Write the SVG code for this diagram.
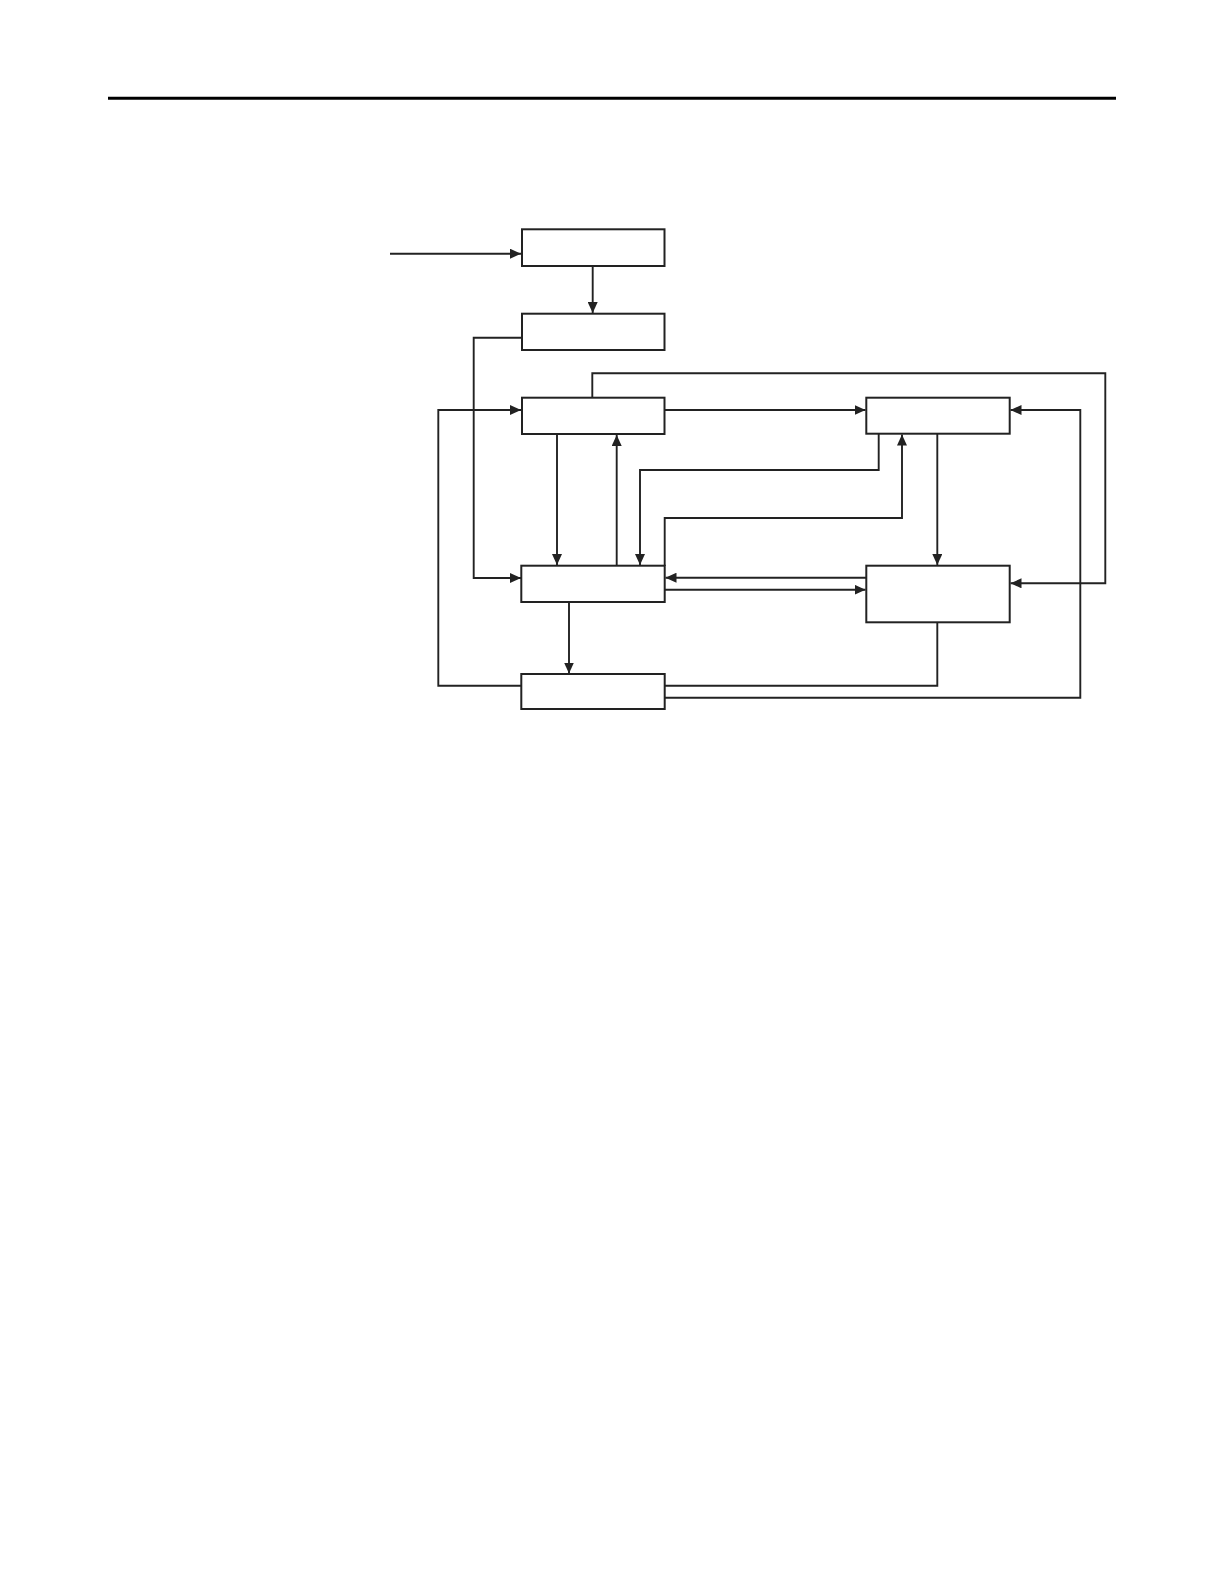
<svg xmlns="http://www.w3.org/2000/svg" width="1224" height="1584" viewBox="0 0 1224 1584">
<style>
.box{fill:#fff;stroke:#222;stroke-width:2}
.ln{fill:none;stroke:#222;stroke-width:1.9}
.arr{marker-end:url(#ah)}
</style>
<defs>
<marker id="ah" markerUnits="userSpaceOnUse" markerWidth="11" markerHeight="10" refX="11" refY="5" orient="auto">
<path d="M0,0 L11,5 L0,10 z" fill="#222"/>
</marker>
</defs>
<rect width="1224" height="1584" fill="#fff"/>
<line x1="108" y1="98.3" x2="1116" y2="98.3" stroke="#000" stroke-width="3"/>
<g id="connectors">
<path class="ln arr" d="M390,253.7 H521"/>
<path class="ln arr" d="M592.7,266 V313"/>
<path class="ln arr" d="M522,337.7 H473.7 V578 H521"/>
<path class="ln arr" d="M522,685.7 H438.3 V410 H521"/>
<path class="ln arr" d="M592.3,397.7 V373.3 H1105.3 V583.3 H1010.5"/>
<path class="ln arr" d="M664.5,410 H865.5"/>
<path class="ln arr" d="M557,434 V565"/>
<path class="ln arr" d="M616.7,566 V435"/>
<path class="ln arr" d="M878.7,434 V470 H640 V565"/>
<path class="ln arr" d="M664.7,566 V518 H902 V434.5"/>
<path class="ln arr" d="M937.3,434 V565"/>
<path class="ln arr" d="M866,577.7 H665.5"/>
<path class="ln arr" d="M664.7,589.7 H865.5"/>
<path class="ln arr" d="M569,602 V673.5"/>
<path class="ln" d="M664.7,685.7 H937.3 V622.3"/>
<path class="ln arr" d="M664.7,697.7 H1080.3 V410 H1010.5"/>
</g>
<g id="nodeA"><rect class="box" x="522" y="229.3" width="142.5" height="36.7"/></g>
<g id="nodeB"><rect class="box" x="522" y="313.7" width="142.5" height="36.3"/></g>
<g id="nodeC"><rect class="box" x="522" y="397.7" width="142.5" height="36.3"/></g>
<g id="nodeD"><rect class="box" x="521.3" y="565.7" width="143.4" height="36.3"/></g>
<g id="nodeF"><rect class="box" x="521.3" y="674" width="143.4" height="35"/></g>
<g id="nodeG"><rect class="box" x="866.3" y="397.7" width="143.4" height="36"/></g>
<g id="nodeE"><rect class="box" x="866.3" y="565.7" width="143.4" height="56.6"/></g>
</svg>
